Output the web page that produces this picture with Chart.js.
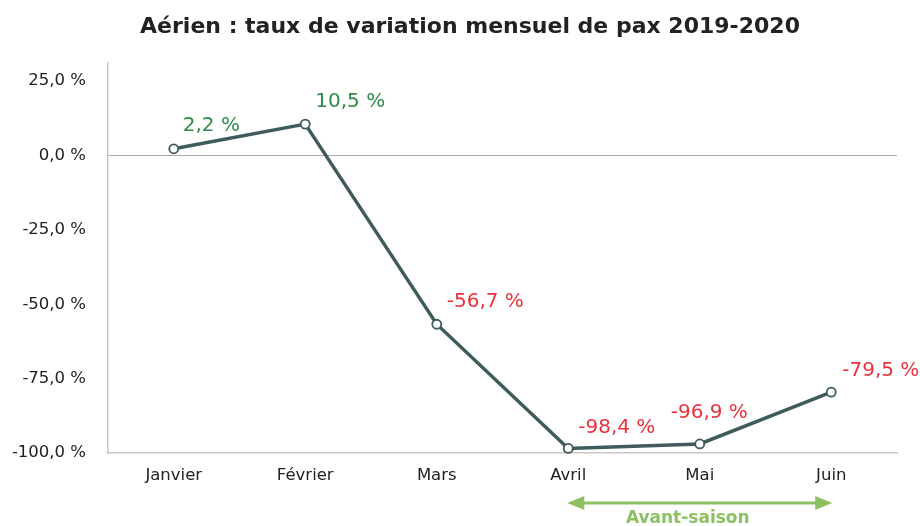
<!DOCTYPE html>
<html lang="fr">
<head>
<meta charset="utf-8">
<script src="https://cdn.jsdelivr.net/npm/chart.js@4/dist/chart.umd.min.js"></script>
<style>
  html, body { margin: 0; padding: 0; background: #fff; }
</style>
</head>
<body>
<canvas id="paxChart" width="920" height="526"></canvas>
<script>
const months = ["Janvier", "Février", "Mars", "Avril", "Mai", "Juin"];
const variation = [2.2, 10.5, -56.7, -98.4, -96.9, -79.5];
const yTicks = [-100, -75, -50, -25, 0, 25];

const FONT = "'DejaVu Sans'";
const TITLE = "Aérien : taux de variation mensuel de pax 2019-2020";
const fmt = v => v.toFixed(1).replace(".", ",") + " %";

// label offsets relative to each point (left edge, vertical centre)
const labelOffsets = [[9, -23], [10, -22], [10, -22], [10, -21], [-29, -31], [11, -21]];

const valueLabels = {
  id: "valueLabels",
  afterDatasetsDraw(chart) {
    const ctx = chart.ctx;
    const meta = chart.getDatasetMeta(0);
    ctx.save();
    ctx.font = "20px " + FONT;
    ctx.textAlign = "left";
    ctx.textBaseline = "middle";
    meta.data.forEach((pt, i) => {
      const v = variation[i];
      ctx.fillStyle = v >= 0 ? "#2b8c4c" : "#e8333d";
      ctx.fillText(fmt(v), pt.x + labelOffsets[i][0], pt.y + labelOffsets[i][1]);
    });
    ctx.restore();
  }
};

// title drawn by hand so it can sit off-centre like the original
const chartTitle = {
  id: "chartTitle",
  afterDraw(chart) {
    const ctx = chart.ctx;
    ctx.save();
    ctx.font = "bold 22px " + FONT;
    ctx.fillStyle = "#222";
    ctx.textAlign = "center";
    ctx.textBaseline = "middle";
    ctx.fillText(TITLE, 470, 27);
    ctx.restore();
  }
};

const seasonArrow = {
  id: "seasonArrow",
  afterDraw(chart) {
    const ctx = chart.ctx;
    const x = chart.scales.x;
    const x1 = x.getPixelForValue(3) - 1;
    const x2 = x.getPixelForValue(5) + 1;
    const y = 503;
    const col = "#8dc063";
    ctx.save();
    ctx.strokeStyle = col;
    ctx.fillStyle = col;
    ctx.lineWidth = 3;
    ctx.beginPath();
    ctx.moveTo(x1 + 10, y);
    ctx.lineTo(x2 - 10, y);
    ctx.stroke();
    ctx.beginPath();
    ctx.moveTo(x1, y);
    ctx.lineTo(x1 + 17, y - 7);
    ctx.lineTo(x1 + 17, y + 7);
    ctx.closePath();
    ctx.fill();
    ctx.beginPath();
    ctx.moveTo(x2, y);
    ctx.lineTo(x2 - 17, y - 7);
    ctx.lineTo(x2 - 17, y + 7);
    ctx.closePath();
    ctx.fill();
    ctx.font = "bold 17px " + FONT;
    ctx.textAlign = "center";
    ctx.textBaseline = "middle";
    ctx.fillText("Avant-saison", (x1 + x2) / 2 - 12, 519);
    ctx.restore();
  }
};

const ctx = document.getElementById("paxChart").getContext("2d");
new Chart(ctx, {
  type: "line",
  data: {
    labels: months,
    datasets: [{
      data: variation,
      borderColor: "#3f5b5c",
      borderWidth: 3.5,
      pointBackgroundColor: "#ffffff",
      pointBorderColor: "#3f5b5c",
      pointBorderWidth: 1.8,
      pointRadius: 4.5,
      tension: 0,
      clip: false
    }]
  },
  options: {
    responsive: false,
    animation: false,
    layout: { padding: { left: 0, right: 23, top: 63, bottom: 27 } },
    plugins: {
      legend: { display: false },
      tooltip: { enabled: false },
      title: { display: false }
    },
    scales: {
      x: {
        offset: true,
        grid: { display: false, drawTicks: false, offset: false },
        border: { display: true, color: "#c8c8c8", width: 1.5 },
        ticks: { color: "#222", font: { family: FONT, size: 16.5 }, padding: 13, maxRotation: 0 }
      },
      y: {
        min: -100,
        max: 31,
        afterBuildTicks: axis => { axis.ticks = yTicks.map(v => ({ value: v })); },
        afterFit: axis => { axis.width = 108; },
        grid: {
          drawTicks: false,
          color: c => c.tick && c.tick.value === 0 ? "#a8a8a8" : "rgba(0,0,0,0)",
          lineWidth: 1
        },
        border: { display: true, color: "#c8c8c8", width: 1.5 },
        ticks: {
          color: "#222",
          font: { family: FONT, size: 16.5 },
          padding: 22,
          callback: v => fmt(v)
        }
      }
    }
  },
  plugins: [valueLabels, chartTitle, seasonArrow]
});
</script>
</body>
</html>
